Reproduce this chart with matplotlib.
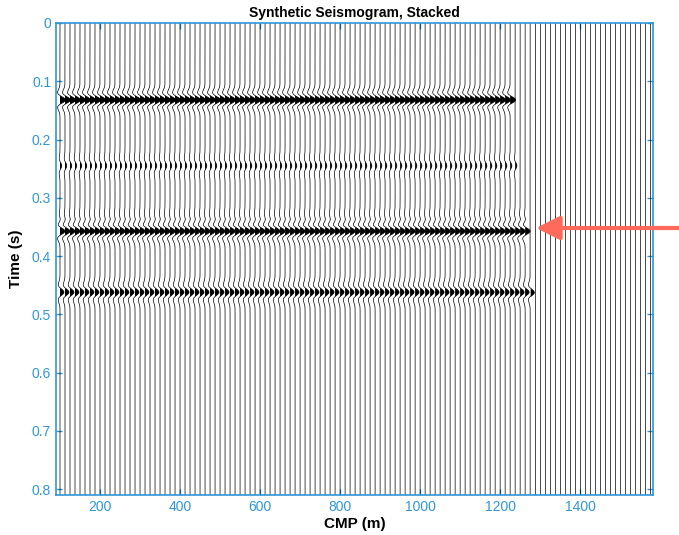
import numpy as np
import matplotlib.pyplot as plt

# trace positions (CMP, m) and time axis
cmp_first, cmp_last, cmp_step = 100.0, 1575.0, 12.5
dt = 0.001
t_max = 0.81

# reflection events: two-way time (s), relative amplitude, last CMP reached (m)
event_times = [0.132, 0.245, 0.340, 0.357, 0.462]
event_amps = [1.1, 0.35, 0.3, 1.1, 0.8]
event_ends = [1225.0, 1237.5, 1262.5, 1262.5, 1275.0]
peak_freq = 30.0

title = 'Synthetic Seismogram, Stacked'
xlabel = 'CMP (m)'
ylabel = 'Time (s)'
xticks = [200, 400, 600, 800, 1000, 1200, 1400]
yticks = [0, 0.1, 0.2, 0.3, 0.4, 0.5, 0.6, 0.7, 0.8]

axis_blue = '#3097d8'
arrow_red = '#ff6a5a'


def ricker(t, f):
    a = (np.pi * f * t) ** 2
    return (1 - 2 * a) * np.exp(-a)


cmps = np.arange(cmp_first, cmp_last + cmp_step / 2, cmp_step)
t = np.arange(0, t_max + dt, dt)

fig = plt.figure(figsize=(6.79, 5.35), dpi=100)
ax = fig.add_axes([56 / 679, 1 - 495 / 535, (653 - 56) / 679, (495 - 23) / 535])

for x0 in cmps:
    trace = np.zeros_like(t)
    for tt, amp, end in zip(event_times, event_amps, event_ends):
        if x0 <= end:
            trace += amp * ricker(t - tt, peak_freq)
    xs = x0 + trace * cmp_step
    ax.plot(xs, t, color='k', lw=0.5)
    ax.fill_betweenx(t, x0, xs, where=trace > 0, color='k', lw=0)

ax.set_xlim(90, 1582)
ax.set_ylim(t_max, 0)
ax.set_xticks(xticks)
ax.set_yticks(yticks)
ax.set_yticklabels(['0'] + ['%.1f' % v for v in yticks[1:]])
ax.tick_params(direction='in', length=4, width=1, colors=axis_blue,
               labelsize=10, top=True, right=True)
for sp in ax.spines.values():
    sp.set_color(axis_blue)
    sp.set_linewidth(1.2)

fnt = ['Liberation Sans', 'DejaVu Sans']
for lab in ax.get_xticklabels() + ax.get_yticklabels():
    lab.set_family(fnt)
ax.set_title(title, fontsize=10, fontweight='bold', family=fnt, pad=4)
ax.set_xlabel(xlabel, fontsize=11, fontweight='bold', family=fnt, labelpad=2)
ax.set_ylabel(ylabel, fontsize=11, fontweight='bold', family=fnt, labelpad=6)

# red arrow pointing at the event near 0.35 s
ax.annotate('', xy=(536 / 679, 1 - 228 / 535), xycoords='figure fraction',
            xytext=(1.0, 1 - 228 / 535), textcoords='figure fraction',
            arrowprops=dict(arrowstyle='-|>,head_length=0.8,head_width=0.4',
                            mutation_scale=18, color=arrow_red, lw=3,
                            shrinkA=0, shrinkB=0),
            annotation_clip=False)

fig.savefig('out.png', dpi=100)
